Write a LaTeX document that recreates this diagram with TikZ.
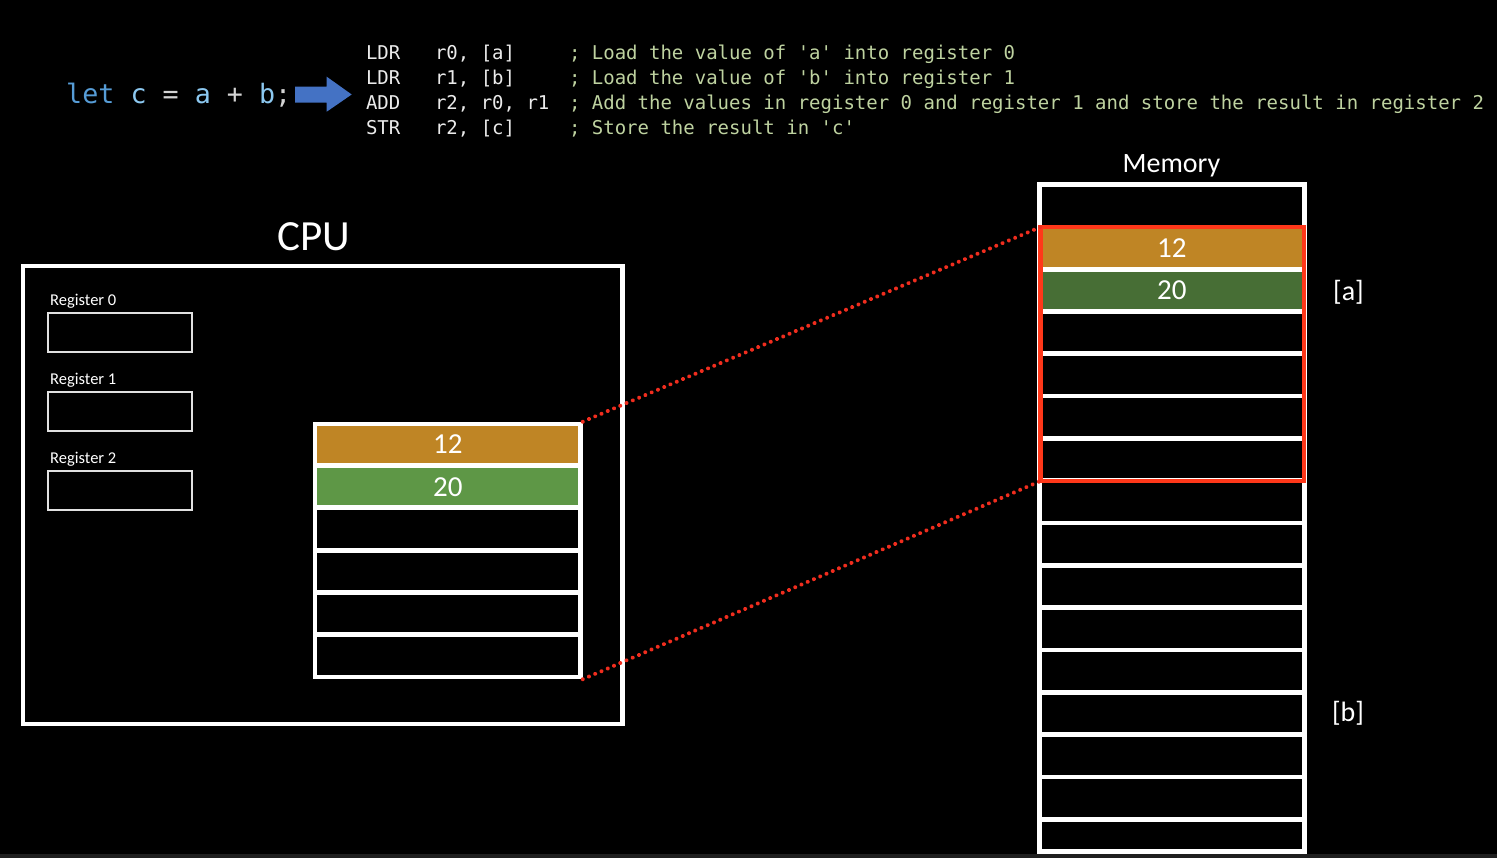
\documentclass[tikz,border=0pt]{standalone}
\usepackage{fontspec}
\setmainfont{Carlito}
\newfontfamily\codefont{DejaVu Sans Mono}
\definecolor{kwblue}{RGB}{86,156,214}
\definecolor{idblue}{RGB}{140,200,240}
\definecolor{opgray}{RGB}{212,212,212}
\definecolor{asmwhite}{RGB}{235,235,235}
\definecolor{cmtgreen}{RGB}{190,210,160}
\definecolor{arrowblue}{RGB}{68,114,196}
\definecolor{cellorange}{RGB}{191,133,37}
\definecolor{cpugreen}{RGB}{94,151,70}
\definecolor{memgreen}{RGB}{71,110,53}
\definecolor{hlred}{RGB}{255,55,25}
\definecolor{dotred}{RGB}{240,45,30}
\definecolor{regline}{RGB}{225,225,225}
\begin{document}
\begin{tikzpicture}[x=1pt,y=-1pt,
  asm/.style={anchor=base west, inner sep=0, outer sep=0, text=asmwhite,
    font=\codefont\fontsize{19}{21}\selectfont},
  cmt/.style={asm, text=cmtgreen},
  reglabel/.style={anchor=base west, inner sep=0, text=white,
    font=\fontsize{16.5}{18}\selectfont},
  regbox/.style={draw=regline, line width=2, minimum width=144,
    minimum height=39.3, inner sep=0, outer sep=0},
  cachecell/.style={inner sep=0, outer sep=0, minimum width=261,
    minimum height=37.4, text=white, font=\fontsize{29}{31}\selectfont},
  memcell/.style={inner sep=0, outer sep=0, minimum width=260.3,
    minimum height=37.6, text=white, font=\fontsize{29}{31}\selectfont},
  title/.style={anchor=base, inner sep=0, text=white},
  addr/.style={inner sep=0, text=white, font=\fontsize{28}{30}\selectfont},
  dotline/.style={draw=dotred, line width=4, line cap=round,
    dash pattern=on 0.01pt off 6.8pt}
]
\useasboundingbox (0,0) rectangle (1497,858);
\fill[black] (0,0) rectangle (1497,858);
\fill[black!88!white] (0,853.5) rectangle (1497,858);

% source line
\node[anchor=base west, inner sep=0, font=\codefont\fontsize{26.7}{28}\selectfont]
  (src) at (66,103.5)
  {\textcolor{kwblue}{let} \textcolor{idblue}{c} \textcolor{opgray}{=} \textcolor{idblue}{a} \textcolor{opgray}{+} \textcolor{idblue}{b}\textcolor{opgray}{;}};

% block arrow
\fill[arrowblue] (295,86.7) -- (326.7,86.7) -- (326.7,76.7) -- (351.7,94.5)
  -- (326.7,111.7) -- (326.7,102.7) -- (295,102.7) -- cycle;

% assembly
\node[asm] (op1) at (366,60) {LDR};
\node[asm] (op2) at (366,85) {LDR};
\node[asm] (op3) at (366,110) {ADD};
\node[asm] (op4) at (366,135) {STR};
\node[asm] (ar1) at (435,60) {r0, [a]};
\node[asm] (ar2) at (435,85) {r1, [b]};
\node[asm] (ar3) at (435,110) {r2, r0, r1};
\node[asm] (ar4) at (435,135) {r2, [c]};
\node[cmt] (cm1) at (569,60) {; Load the value of 'a' into register 0};
\node[cmt] (cm2) at (569,85) {; Load the value of 'b' into register 1};
\node[cmt] (cm3) at (569,110) {; Add the values in register 0 and register 1 and store the result in register 2};
\node[cmt] (cm4) at (569,135) {; Store the result in 'c'};

% CPU
\node[draw=white, line width=4.5, minimum width=599.5, minimum height=457.5,
  inner sep=0, outer sep=0] (cpu) at (322.8,495) {};
\node[title, font=\fontsize{43}{46}\selectfont] (cpulbl) at (313.8,250.7) {CPU};

\node[reglabel] (rl0) at (50,306) {Register 0};
\node[regbox] (r0) at (119.7,332.7) {};
\node[reglabel] (rl1) at (50,385) {Register 1};
\node[regbox] (r1) at (119.7,411.7) {};
\node[reglabel] (rl2) at (50,464) {Register 2};
\node[regbox] (r2) at (119.7,490.7) {};

% CPU cache block
\node[fill=white, minimum width=269.4, minimum height=257.6, inner sep=0,
  outer sep=0] (cache) at (448,550.5) {};
\node[cachecell, fill=cellorange] (cc0) at (447.8,444.4) {12};
\node[cachecell, fill=cpugreen] (cc1) at (447.8,486.7) {20};
\foreach \i in {2,...,5} {
  \node[cachecell, fill=black] (cc\i) at (447.8,444.4+42.3*\i) {};
}

% Memory
\fill[white] (1036.7,182.3) rectangle (1306.7,853.5);
\node[title, font=\fontsize{28}{30}\selectfont] (memlbl) at (1171.5,172.7) {Memory};
\foreach \k in {0,...,15} {
  \node[memcell, fill=black] (mc\k) at (1171.85,205.8+42.3*\k) {};
}
\node[memcell, fill=cellorange] (m12) at (1171.85,248.1) {12};
\node[memcell, fill=memgreen] (m20) at (1171.85,290.4) {20};
\fill[white] (1036.7,849.3) rectangle (1306.7,853.5);
\fill[black!88!white] (1030,853.5) rectangle (1310,858);

% highlight
\node[draw=hlred, line width=4.5, minimum width=263.5, minimum height=254,
  inner sep=0, outer sep=0] (hl) at (1172.25,354) {};

\node[addr] (la) at (1348.5,292) {[a]};
\node[addr] (lb) at (1348,713) {[b]};

% dotted connectors
\draw[dotline] (cache.north east) -- (hl.north west);
\draw[dotline] (cache.south east) -- (hl.south west);
\end{tikzpicture}
\end{document}
